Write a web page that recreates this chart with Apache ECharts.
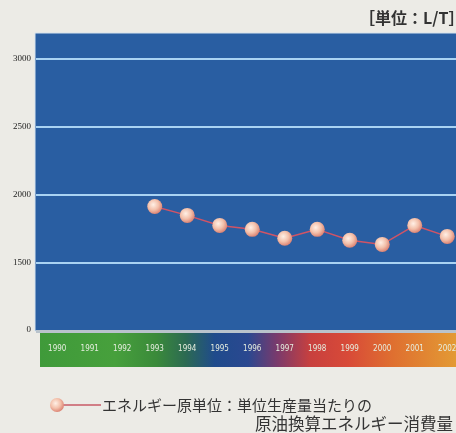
<!DOCTYPE html>
<html>
<head>
<meta charset="utf-8">
<style>
  html, body { margin: 0; padding: 0; background: #ecebe6; overflow: hidden; }
  #chart { width: 472px; height: 433px; }
</style>
<script src="https://cdn.jsdelivr.net/npm/echarts@6/dist/echarts.min.js"></script>
</head>
<body>
<div id="chart"></div>
<script>
// Years on the horizontal axis
const years = ['1990', '1991', '1992', '1993', '1994', '1995', '1996', '1997', '1998', '1999', '2000', '2001', '2002'];
// Energy intensity (L/T); no values before 1993
const energyIntensity = [null, null, null, 1912, 1846, 1772, 1743, 1677, 1743, 1662, 1632, 1772, 1691];
// Vertical tick values and the text shown for them (axis is broken below 1500)
const yTickValues = [1000, 1500, 2000, 2500, 3000];
const yTickLabels = ['0', '1500', '2000', '2500', '3000'];

const seriesName = 'エネルギー原単位：単位生産量当たりの';
const seriesName2 = '原油換算エネルギー消費量';
const unitText = '［単位：L/T］';

const markerFill = {
  type: 'radial', x: 0.4, y: 0.38, r: 0.65,
  colorStops: [
    { offset: 0, color: '#fff0e6' },
    { offset: 0.55, color: '#f3c0aa' },
    { offset: 1, color: '#da7f70' }
  ]
};

const chart = echarts.init(document.getElementById('chart'), null, { renderer: 'canvas' });

chart.setOption({
  backgroundColor: '#ecebe6',
  animation: false,
  grid: { left: 41, top: 34, width: 422.5, height: 296 },
  xAxis: {
    type: 'category',
    data: years,
    boundaryGap: true,
    axisLine: { show: false },
    axisTick: { show: false },
    axisLabel: {
      margin: 15,
      color: '#e6eedf',
      fontSize: 8,
      fontFamily: 'Liberation Sans Narrow, DejaVu Sans Condensed, sans-serif',
      interval: 0
    },
    splitLine: { show: false }
  },
  yAxis: {
    type: 'value',
    min: 1000,
    max: 3185,
    interval: 500,
    axisLine: { show: false },
    axisTick: { show: false },
    axisLabel: {
      margin: 10,
      color: '#222',
      fontSize: 9,
      fontFamily: 'Liberation Serif, DejaVu Serif, serif',
      formatter: function (v) {
        const i = yTickValues.indexOf(v);
        return i >= 0 ? yTickLabels[i] : '';
      }
    },
    splitLine: { show: false }
  },
  graphic: {
    elements: [
      // plot panel
      {
        type: 'rect', z: -10, silent: true,
        shape: { x: 35, y: 33, width: 440, height: 298 },
        style: { fill: '#295ea2', stroke: '#d7e3ee', lineWidth: 1 }
      },
      // divider under the panel
      {
        type: 'rect', z: -10, silent: true,
        shape: { x: 36, y: 330, width: 440, height: 3 },
        style: { fill: '#b9c3cc' }
      },
      // coloured band behind the year labels
      {
        type: 'rect', z: -10, silent: true,
        shape: { x: 40, y: 333, width: 416, height: 34 },
        style: {
          fill: {
            type: 'linear', x: 0, y: 0, x2: 1, y2: 0,
            colorStops: [
              { offset: 0, color: '#3f9a3a' },
              { offset: 0.18, color: '#47a03c' },
              { offset: 0.28, color: '#3a8a3a' },
              { offset: 0.35, color: '#2c6a52' },
              { offset: 0.42, color: '#1f4b8c' },
              { offset: 0.5, color: '#2a4890' },
              { offset: 0.57, color: '#7a3a6c' },
              { offset: 0.65, color: '#c8403e' },
              { offset: 0.74, color: '#d84a38' },
              { offset: 0.85, color: '#df7030' },
              { offset: 1, color: '#e39a34' }
            ]
          }
        }
      },
      {
        type: 'rect', z: -10, silent: true,
        shape: { x: 456, y: 333, width: 20, height: 34 },
        style: { fill: '#e39a34' }
      },
      // unit caption
      {
        type: 'text', silent: true,
        style: {
          x: 359, y: 18, text: unitText,
          fill: '#333', font: 'bold 16px "Noto Sans CJK JP", sans-serif',
          textVerticalAlign: 'middle'
        }
      },
      // legend key
      {
        type: 'line', silent: true,
        shape: { x1: 60, y1: 405, x2: 101, y2: 405 },
        style: { stroke: '#c85a66', lineWidth: 1.5 }
      },
      {
        type: 'circle', silent: true,
        shape: { cx: 57, cy: 405, r: 7 },
        style: { fill: markerFill }
      },
      {
        type: 'text', silent: true,
        style: {
          x: 102, y: 405, text: seriesName,
          fill: '#333', font: '15px "Noto Sans CJK JP", sans-serif',
          textVerticalAlign: 'middle'
        }
      },
      {
        type: 'text', silent: true,
        style: {
          x: 255, y: 424, text: seriesName2,
          fill: '#333', font: '16.5px "Noto Sans CJK JP", sans-serif',
          textVerticalAlign: 'middle'
        }
      }
    ]
  },
  series: [
    {
      name: seriesName,
      type: 'line',
      data: energyIntensity,
      symbol: 'circle',
      symbolSize: 15,
      showAllSymbol: true,
      lineStyle: { color: '#cf5466', width: 1.5 },
      itemStyle: { color: markerFill, borderWidth: 0 },
      emphasis: { disabled: true },
      // horizontal grid lines across the full panel width
      markLine: {
        silent: true,
        symbol: 'none',
        label: { show: false },
        lineStyle: { color: '#a9d3f3', width: 2, type: 'solid' },
        data: yTickValues.slice(1).map(function (v) {
          return [{ x: 36, yAxis: v }, { x: 472, yAxis: v }];
        })
      }
    }
  ]
});
</script>
</body>
</html>
